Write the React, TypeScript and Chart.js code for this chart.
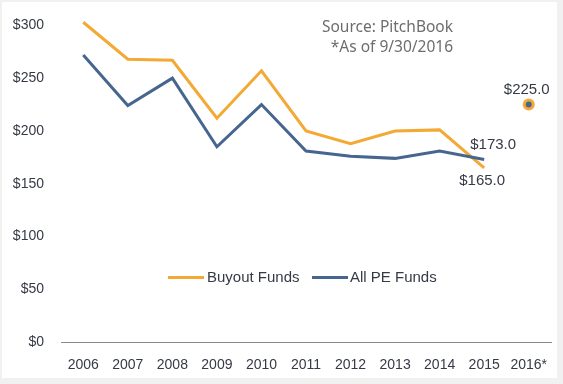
import React, { useEffect, useRef } from "react";
import { Chart, registerables } from "chart.js";

Chart.register(...registerables);

const years = ["2006", "2007", "2008", "2009", "2010", "2011", "2012", "2013", "2014", "2015", "2016*"];
const buyoutFunds = [303, 268, 267, 212, 257, 200, 188, 200, 201, 165, 225];
const allPEFunds = [272, 224, 250, 185, 225, 181, 176, 174, 181, 173, 225];
const yTickValues = [0, 50, 100, 150, 200, 250, 300];

const ORANGE = "#F3A933";
const BLUE = "#46668F";
const TEXT = "#363A45";

// value labels: [datasetIndex, dataIndex, dx, dy]
const valueLabels: [number, number, number, number][] = [
  [0, 10, -2, -15],
  [1, 9, 9, -15],
  [0, 9, -2, 13],
];

const labelPlugin = {
  id: "valueLabels",
  afterDatasetsDraw(chart: any) {
    const ctx = chart.ctx;
    ctx.save();
    ctx.font = "15px 'Liberation Sans', Arial, sans-serif";
    ctx.fillStyle = TEXT;
    ctx.textAlign = "center";
    ctx.textBaseline = "middle";
    for (const [ds, idx, dx, dy] of valueLabels) {
      const el = chart.getDatasetMeta(ds).data[idx];
      const v = chart.data.datasets[ds].data[idx];
      ctx.fillText("$" + Number(v).toFixed(1), el.x + dx, el.y + dy);
    }
    ctx.restore();
  },
};

export default function App() {
  const ref = useRef<HTMLCanvasElement>(null);
  useEffect(() => {
    document.body.style.margin = "0";
    const hideLast = (c: any) => (c.p1DataIndex === years.length - 1 ? "transparent" : undefined);
    const chart = new Chart(ref.current!, {
      type: "line",
      data: {
        labels: years,
        datasets: [
          {
            label: "Buyout Funds",
            data: buyoutFunds,
            borderColor: ORANGE,
            backgroundColor: ORANGE,
            borderWidth: 3,
            pointRadius: buyoutFunds.map((_, i) => (i === years.length - 1 ? 6 : 0)),
            pointBorderWidth: 0,
            pointBackgroundColor: ORANGE,
            segment: { borderColor: hideLast },
            tension: 0,
            clip: false as any,
            order: 1,
          },
          {
            label: "All PE Funds",
            data: allPEFunds,
            borderColor: BLUE,
            backgroundColor: BLUE,
            borderWidth: 3,
            pointRadius: allPEFunds.map((_, i) => (i === years.length - 1 ? 3 : 0)),
            pointBorderWidth: 0,
            pointBackgroundColor: BLUE,
            segment: { borderColor: hideLast },
            tension: 0,
            clip: false as any,
            order: 0,
          },
        ],
      },
      options: {
        animation: false,
        responsive: false,
        layout: { padding: { left: 0, right: 12, top: 23, bottom: 0 } },
        plugins: { legend: { display: false }, tooltip: { enabled: false } },
        scales: {
          x: {
            offset: true,
            grid: { display: true, drawOnChartArea: false, drawTicks: false, color: "transparent" },
            border: { display: true, color: "#8a8a8a", width: 1 },
            ticks: {
              color: TEXT,
              font: { family: "'Liberation Sans', Arial, sans-serif", size: 14 },
              padding: 15,
              maxRotation: 0,
              autoSkip: false,
            },
            afterFit: (s: any) => {
              s.height = 42;
            },
          },
          y: {
            min: 0,
            max: 300,
            afterBuildTicks: (s: any) => {
              s.ticks = yTickValues.map((v) => ({ value: v }));
            },
            grid: { display: false, drawTicks: false },
            border: { display: false },
            ticks: {
              color: TEXT,
              font: { family: "'Liberation Sans', Arial, sans-serif", size: 14 },
              padding: 17,
              callback: (v: any) => "$" + v,
            },
            afterFit: (s: any) => {
              s.width = 61;
            },
          },
        },
      },
      plugins: [labelPlugin],
    });
    return () => chart.destroy();
  }, []);

  const legendText: React.CSSProperties = {
    position: "absolute",
    top: 268,
    fontFamily: "'Liberation Sans', Arial, sans-serif",
    fontSize: 15,
    color: TEXT,
    lineHeight: "18px",
    whiteSpace: "nowrap",
  };
  const legendLine = (color: string, left: number): React.CSSProperties => ({
    position: "absolute",
    left,
    top: 276,
    width: 36,
    height: 3,
    background: color,
  });
  const sourceText: React.CSSProperties = {
    position: "absolute",
    right: 563 - 453,
    fontFamily: "'Noto Sans', sans-serif",
    fontSize: 15.5,
    color: "#6d6d6d",
    lineHeight: "18px",
    whiteSpace: "nowrap",
    textAlign: "right",
  };

  return (
    <div style={{ position: "relative", width: 563, height: 384, background: "#f1f1f1", overflow: "hidden" }}>
      <div style={{ position: "absolute", left: 2, top: 2, width: 555, height: 376, background: "#ffffff" }} />
      <canvas ref={ref} width={563} height={384} style={{ position: "absolute", left: 0, top: 0, width: 563, height: 384 }} />
      <div style={{ ...sourceText, top: 17 }}>Source: PitchBook</div>
      <div style={{ ...sourceText, top: 37 }}>*As of 9/30/2016</div>
      <div style={legendLine(ORANGE, 168)} />
      <div style={{ ...legendText, left: 207 }}>Buyout Funds</div>
      <div style={legendLine(BLUE, 312)} />
      <div style={{ ...legendText, left: 350 }}>All PE Funds</div>
    </div>
  );
}
